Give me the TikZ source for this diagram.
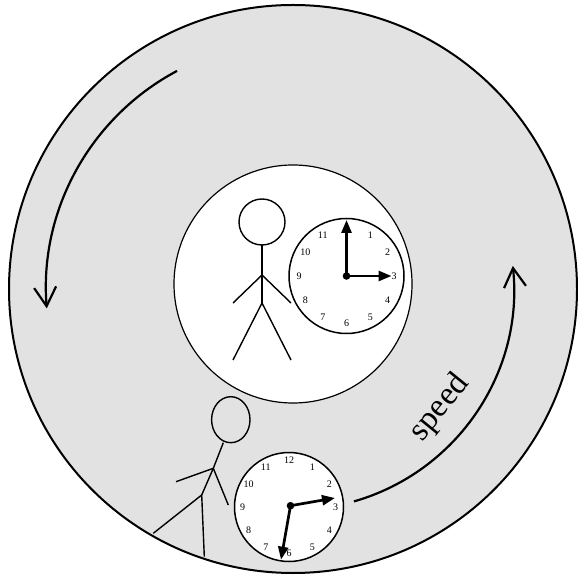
\documentclass[tikz,border=0pt]{standalone}
\usepackage{fontspec}
\setmainfont{Liberation Serif}
\usetikzlibrary{arrows.meta}
\definecolor{diskgray}{HTML}{E2E2E2}
\begin{document}
\begin{tikzpicture}[x=1pt,y=1pt,
  rim/.style={draw=black,line width=2pt,fill=diskgray},
  hub/.style={draw=black,line width=1.2pt,fill=white},
  dial/.style={draw=black,line width=1.5pt,fill=white},
  limb/.style={draw=black,line width=1.4pt},
  hand/.style={line width=2.7pt,-{Triangle[length=13pt,width=10pt]}},
  flow/.style={line width=2.2pt,-{Straight Barb[length=19pt,width=22pt]}},
  numeral/.style={inner sep=0pt,font=\fontsize{10}{10}\selectfont}]
\useasboundingbox (0,0) rectangle (578,576);

% rotating disk and its resting centre
\coordinate (O) at (293,287);
\path[rim] (O) circle[radius=284];
\coordinate (H) at (293,292);
\path[hub] (H) circle[radius=119];

% clock at the centre
\coordinate (tc) at (346.5,300);
\path[dial] (tc) circle[radius=57.5];
\foreach \k in {1,...,11}
  \node[numeral] (tn\k) at ([shift={({90-30*\k}:47.5)}]tc) {\k};
\coordinate (th) at ([shift={(0,56)}]tc);
\coordinate (tm) at ([shift={(45,0)}]tc);
\draw[hand] (tc) -- (th);
\draw[hand] (tc) -- (tm);
\fill (tc) circle[radius=3.8];

% observer at the centre
\coordinate (ph) at (262,354);
\path[limb] (ph) circle[radius=23];
\coordinate (pn) at (262,331);
\coordinate (ps) at (262,301);
\coordinate (pp) at (262,273);
\coordinate (pal) at (233,273);
\coordinate (par) at (291,273);
\coordinate (pll) at (233,216);
\coordinate (plr) at (291,216);
\draw[limb] (pn) -- (ps) -- (pp);
\draw[limb] (pal) -- (ps) -- (par);
\draw[limb] (pll) -- (pp) -- (plr);

% clock on the rim
\coordinate (bc) at (289,69);
\path[dial] (bc) circle[radius=54.5];
\foreach \k in {1,...,12}
  \node[numeral] (bn\k) at ([shift={({90-30*\k}:46.5)}]bc) {\k};
\coordinate (bk) at (290.5,70.3);
\coordinate (bm) at ([shift={(44.5,7.7)}]bk);
\coordinate (bh) at ([shift={(-9.5,-54)}]bk);
\draw[hand] (bk) -- (bm);
\draw[hand] (bk) -- (bh);
\fill (bk) circle[radius=3.8];

% observer on the rim
\coordinate (qh) at (230.8,156.3);
\path[limb] (qh) ellipse[x radius=19.2,y radius=23];
\coordinate (qn) at (223.3,133.3);
\coordinate (qs) at (213.3,107.7);
\coordinate (qp) at (201.7,81);
\coordinate (qal) at (176,94.3);
\coordinate (qar) at (228.3,71);
\coordinate (qll) at (153.3,42.7);
\coordinate (qlr) at (204.3,19.3);
\draw[limb] (qn) -- (qs) -- (qp);
\draw[limb] (qal) -- (qs) -- (qar);
\draw[limb] (qll) -- (qp) -- (qlr);

% sense of rotation
\coordinate (la) at ([shift={(118:247)}]O);
\draw[flow] (la) arc[start angle=118,end angle=184.5,radius=247];
\coordinate (ra) at ([shift={(-74:221)}]O);
\draw[flow] (ra) arc[start angle=-74,end angle=6,radius=221];
\node[rotate=51,font=\fontsize{33}{33}\selectfont] (sp) at ([shift={(-39:189)}]O) {speed};
\end{tikzpicture}
\end{document}
